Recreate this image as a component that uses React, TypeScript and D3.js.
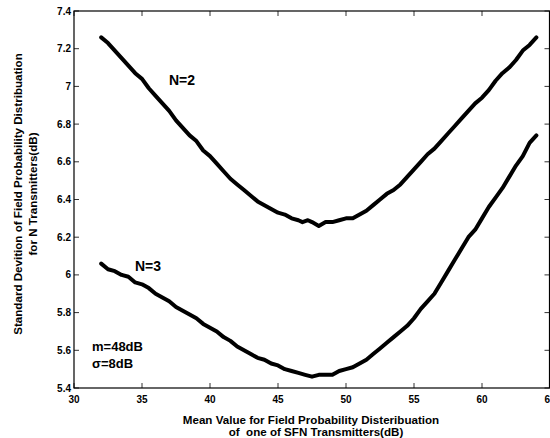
import React from "react";
import * as d3 from "d3";

const xN2 = [32, 32.5, 33, 33.5, 34, 34.5, 35, 35.5, 36, 36.5, 37, 37.5, 38, 38.5, 39, 39.5, 40, 40.5, 41, 41.5, 42, 42.5, 43, 43.5, 44, 44.5, 45, 45.5, 46, 46.5, 46.8, 47.2, 47.5, 48, 48.5, 49, 49.5, 50, 50.5, 51, 51.5, 52, 52.5, 53, 53.5, 54, 54.5, 55, 55.5, 56, 56.5, 57, 57.5, 58, 58.5, 59, 59.5, 60, 60.5, 61, 61.5, 62, 62.5, 63, 63.5, 64];
const yN2 = [7.26, 7.23, 7.19, 7.15, 7.11, 7.07, 7.04, 6.99, 6.95, 6.91, 6.87, 6.82, 6.78, 6.74, 6.71, 6.66, 6.63, 6.59, 6.55, 6.51, 6.48, 6.45, 6.42, 6.39, 6.37, 6.35, 6.33, 6.32, 6.3, 6.29, 6.28, 6.29, 6.28, 6.26, 6.28, 6.28, 6.29, 6.3, 6.3, 6.32, 6.34, 6.37, 6.4, 6.43, 6.45, 6.48, 6.52, 6.56, 6.6, 6.64, 6.67, 6.71, 6.75, 6.79, 6.83, 6.87, 6.91, 6.94, 6.98, 7.03, 7.07, 7.1, 7.14, 7.19, 7.22, 7.26];

const xN3 = [32, 32.5, 33, 33.5, 34, 34.5, 35, 35.5, 36, 36.5, 37, 37.5, 38, 38.5, 39, 39.5, 40, 40.5, 41, 41.5, 42, 42.5, 43, 43.5, 44, 44.5, 45, 45.5, 46, 46.5, 47, 47.5, 48, 48.5, 49, 49.5, 50, 50.5, 51, 51.5, 52, 52.5, 53, 53.5, 54, 54.5, 55, 55.5, 56, 56.5, 57, 57.5, 58, 58.5, 59, 59.5, 60, 60.5, 61, 61.5, 62, 62.5, 63, 63.5, 64];
const yN3 = [6.06, 6.03, 6.02, 6.0, 5.99, 5.96, 5.95, 5.93, 5.9, 5.88, 5.86, 5.83, 5.81, 5.79, 5.77, 5.74, 5.72, 5.7, 5.67, 5.65, 5.62, 5.6, 5.58, 5.56, 5.55, 5.53, 5.52, 5.5, 5.49, 5.48, 5.47, 5.46, 5.47, 5.47, 5.47, 5.49, 5.5, 5.51, 5.53, 5.55, 5.58, 5.61, 5.64, 5.67, 5.7, 5.73, 5.77, 5.82, 5.86, 5.9, 5.96, 6.02, 6.08, 6.14, 6.2, 6.24, 6.3, 6.36, 6.41, 6.46, 6.52, 6.58, 6.63, 6.7, 6.74];

const xTicks = [30, 35, 40, 45, 50, 55, 60, 65];
const yTicks = [5.4, 5.6, 5.8, 6, 6.2, 6.4, 6.6, 6.8, 7, 7.2, 7.4];

const xLabel = ["Mean Value for Field Probability Disteribuation", "of  one of SFN Transmitters(dB)"];
const yLabel = ["Standard Devition of Field Probability Distribuation", "for N Transmitters(dB)"];

const W = 550;
const H = 438;
const left = 74;
const right = 549.5;
const top = 11;
const bottom = 388;

export default function App() {
  const x = d3.scaleLinear().domain([30, 65]).range([left, left + (65 - 30) * 13.6]);
  const y = d3.scaleLinear().domain([5.4, 7.4]).range([bottom, top]);
  const line = d3
    .line<[number, number]>()
    .x((d) => x(d[0]))
    .y((d) => y(d[1]));
  const n2: [number, number][] = xN2.map((v, i) => [v, yN2[i]]);
  const n3: [number, number][] = xN3.map((v, i) => [v, yN3[i]]);
  const font = "'Liberation Sans', Arial, sans-serif";
  const tl = 5;
  return (
    <svg
      width={W}
      height={H}
      style={{ position: "fixed", left: 0, top: 0, background: "#fff" }}
      fontFamily={font}
    >
      <rect x={0} y={0} width={W} height={H} fill="#fff" />
      {xTicks.map((t) => (
        <g key={"x" + t}>
          <line x1={x(t)} x2={x(t)} y1={bottom} y2={bottom - tl} stroke="#333" strokeWidth={1} />
          <line x1={x(t)} x2={x(t)} y1={top} y2={top + tl} stroke="#333" strokeWidth={1} />
          <text x={x(t)} y={403} textAnchor="middle" fontSize={10} fontWeight="bold" fill="#000">
            {t}
          </text>
        </g>
      ))}
      {yTicks.map((t) => (
        <g key={"y" + t}>
          <line x1={left} x2={left + tl} y1={y(t)} y2={y(t)} stroke="#333" strokeWidth={1} />
          <line x1={right} x2={right - tl} y1={y(t)} y2={y(t)} stroke="#333" strokeWidth={1} />
          <text x={71} y={y(t) + 3.5} textAnchor="end" fontSize={10} fontWeight="bold" fill="#000">
            {t}
          </text>
        </g>
      ))}
      <rect x={left} y={top} width={right - left} height={bottom - top} fill="none" stroke="#000" strokeWidth={1.2} />
      <path d={line(n2) || ""} fill="none" stroke="#000" strokeWidth={4} strokeLinejoin="round" strokeLinecap="round" />
      <path d={line(n3) || ""} fill="none" stroke="#000" strokeWidth={4} strokeLinejoin="round" strokeLinecap="round" />
      <text x={182} y={85} textAnchor="middle" fontSize={14} fontWeight="bold">N=2</text>
      <text x={148} y={271} textAnchor="middle" fontSize={14} fontWeight="bold">N=3</text>
      <text x={92} y={351} fontSize={13} fontWeight="bold">m=48dB</text>
      <text x={92} y={368} fontSize={13} fontWeight="bold">σ=8dB</text>
      <text x={311} y={423.5} textAnchor="middle" fontSize={11.6} fontWeight="bold">{xLabel[0]}</text>
      <text x={316} y={435.5} textAnchor="middle" fontSize={11.6} fontWeight="bold" style={{ whiteSpace: "pre" }}>{xLabel[1]}</text>
      <g transform={`translate(22, 194) rotate(-90)`}>
        <text x={0} y={0} textAnchor="middle" fontSize={11.6} fontWeight="bold">{yLabel[0]}</text>
        <text x={0} y={15} textAnchor="middle" fontSize={11.6} fontWeight="bold">{yLabel[1]}</text>
      </g>
    </svg>
  );
}
